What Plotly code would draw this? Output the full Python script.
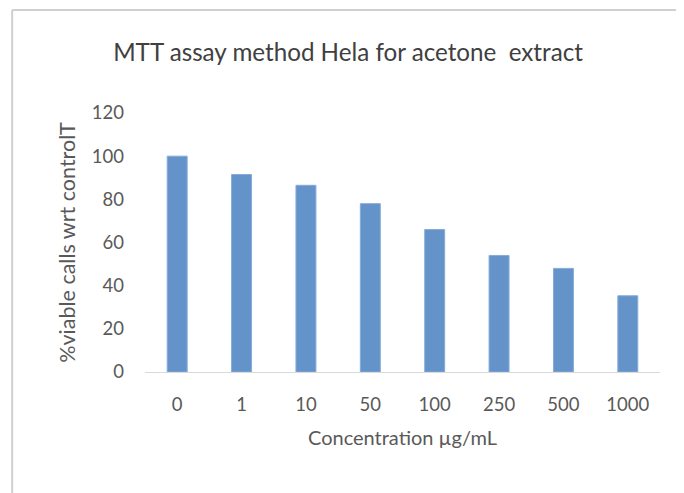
import plotly.graph_objects as go

categories = ["0", "1", "10", "50", "100", "250", "500", "1000"]
viable = [100, 91.5, 86.5, 78, 66, 54, 48, 35.3]
y_ticks = [0, 20, 40, 60, 80, 100, 120]

title_text = "MTT assay method Hela for acetone  extract"
x_title = "Concentration µg/mL"
y_title = "%viable calls wrt controlT"

txt = "#595959"
font = "Lato, 'Open Sans', sans-serif"

fig = go.Figure()
fig.add_trace(go.Bar(
    x=categories, y=viable,
    marker=dict(color="#6393C9", line=dict(color="#86ABD8", width=1)),
))

fig.update_layout(
    width=676, height=485,
    margin=dict(l=137, r=24, t=105, b=121),
    paper_bgcolor="white", plot_bgcolor="white",
    bargap=0.69,
    showlegend=False,
    title=dict(text=title_text, x=0.503, xanchor="center", y=0.909, yanchor="middle",
               font=dict(family=font, size=24.2, color="#404040")),
    font=dict(family=font, color=txt, size=18.5),
    xaxis=dict(
        type="category", showline=True, linecolor="#D9D9D9", linewidth=1,
        ticks="", tickfont=dict(size=18.5, color=txt),
        ticklabelstandoff=16,
        title=dict(text=x_title, font=dict(size=20, color=txt), standoff=16),
        showgrid=False,
    ),
    yaxis=dict(
        range=[0, 120], tickvals=y_ticks, showgrid=False, zeroline=False,
        showline=False, ticks="", tickfont=dict(size=18.5, color=txt),
        ticklabelstandoff=20,
        title=dict(text=y_title, font=dict(size=21.5, color=txt), standoff=10),
    ),
    shapes=[
        dict(type="line", xref="paper", yref="paper", x0=-0.258, x1=1.06, y0=1.398, y1=1.398,
             line=dict(color="#D0D0D0", width=2)),
        dict(type="line", xref="paper", yref="paper", x0=-0.258, x1=-0.258, y0=1.398, y1=-0.5,
             line=dict(color="#D0D0D0", width=2)),
    ],
)

fig.write_html("out.html")
